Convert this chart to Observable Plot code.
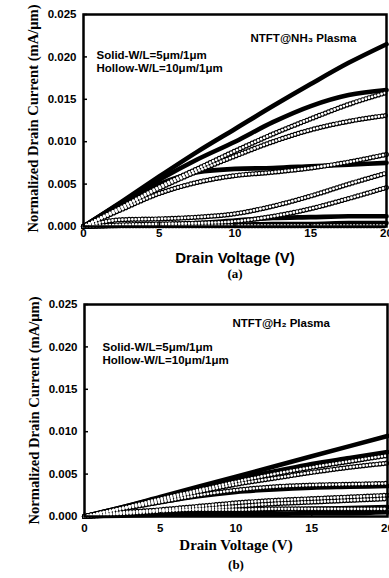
<!DOCTYPE html>
<html><head><meta charset="utf-8">
<script src="https://cdn.jsdelivr.net/npm/d3@7"></script>
<script src="https://cdn.jsdelivr.net/npm/@observablehq/plot@0.6"></script>
<style>
html,body{margin:0;padding:0;background:#fff;}
#wrap{width:389px;height:578px;overflow:hidden;}
svg{display:block;}
</style>
</head><body><div id="wrap"></div>
<script>
// Drain voltage grid (V)
const voltage = [0, 2.5, 5, 7.5, 10, 12.5, 15, 17.5, 20];
const xTicks = [0, 5, 10, 15, 20];
const yTicks = [0, 0.005, 0.010, 0.015, 0.020, 0.025];

// (a) NTFT@NH3 plasma — solid: W/L=5µm/1µm
const nh3Solid1 = [0, 0.0029, 0.0059, 0.0088, 0.0115, 0.0142, 0.0168, 0.0193, 0.0215];
const nh3Solid2 = [0, 0.0028, 0.0055, 0.0079, 0.0100, 0.0123, 0.0142, 0.0155, 0.0161];
const nh3Solid3 = [0, 0.0027, 0.0050, 0.0064, 0.0068, 0.0069, 0.0071, 0.0073, 0.0075];
const nh3Solid4 = [0, 0.0001, 0.0002, 0.0004, 0.0007, 0.0010, 0.0011, 0.0012, 0.0012];
const nh3Solid5 = [0, 0.0001, 0.0001, 0.0002, 0.0002, 0.0003, 0.0003, 0.0004, 0.0004];
// (a) hollow: W/L=10µm/1µm
const nh3Hollow1 = [0, 0.0023, 0.0047, 0.0068, 0.0089, 0.0109, 0.0127, 0.0144, 0.0158];
const nh3Hollow2 = [0, 0.0022, 0.0045, 0.0065, 0.0083, 0.0100, 0.0114, 0.0124, 0.0131];
const nh3Hollow3 = [0, 0.0020, 0.0039, 0.0052, 0.0060, 0.0064, 0.0069, 0.0076, 0.0085];
const nh3Hollow4 = [0, 0.0008, 0.0009, 0.0011, 0.0015, 0.0024, 0.0036, 0.0050, 0.0063];
const nh3Hollow5 = [0, 0.0002, 0.0003, 0.0004, 0.0006, 0.0012, 0.0021, 0.0033, 0.0046];
const nh3Hollow6 = [0, 0.0001, 0.0001, 0.0001, 0.0001, 0.0001, 0.0001, 0.0001, 0.0001];

// (b) NTFT@H2 plasma — solid
const h2Solid1 = [0, 0.0011, 0.0023, 0.0035, 0.0047, 0.0059, 0.0071, 0.0083, 0.0095];
const h2Solid2 = [0, 0.0011, 0.0022, 0.0033, 0.0044, 0.0053, 0.0062, 0.0069, 0.0076];
const h2Solid3 = [0, 0.0009, 0.0017, 0.0024, 0.0029, 0.0032, 0.0034, 0.0035, 0.0036];
const h2Solid4 = [0, 0.0002, 0.0004, 0.0006, 0.0007, 0.0008, 0.0009, 0.0010, 0.0011];
const h2Solid5 = [0, 0.0001, 0.0002, 0.0002, 0.0003, 0.0003, 0.0004, 0.0004, 0.0005];
// (b) hollow
const h2Hollow1 = [0, 0.0010, 0.0021, 0.0031, 0.0041, 0.0050, 0.0058, 0.0065, 0.0072];
const h2Hollow2 = [0, 0.0010, 0.0019, 0.0029, 0.0038, 0.0045, 0.0052, 0.0058, 0.0063];
const h2Hollow3 = [0, 0.0009, 0.0017, 0.0025, 0.0031, 0.0035, 0.0037, 0.0038, 0.0039];
const h2Hollow4 = [0, 0.0004, 0.0008, 0.0012, 0.0016, 0.0019, 0.0021, 0.0023, 0.0025];
const h2Hollow5 = [0, 0.0003, 0.0006, 0.0009, 0.0012, 0.0015, 0.0017, 0.0019, 0.0021];
const h2Hollow6 = [0, 0.0005, 0.0007, 0.0008, 0.0008, 0.0009, 0.0009, 0.0009, 0.0009];

const xLabel = "Drain Voltage (V)";
const yLabel = "Normalized Drain Current (mA/\u03bcm)";
const solidNote = "Solid-W/L=5\u03bcm/1\u03bcm";
const hollowNote = "Hollow-W/L=10\u03bcm/1\u03bcm";

function toRows(list, kind) {
  return list.flatMap((vals, i) => vals.map((c, j) => ({v: voltage[j], c, id: kind + i})));
}

const SANS = "'Liberation Sans', Arial, Helvetica, sans-serif";
const SERIF = "'Liberation Serif', 'Times New Roman', Times, serif";

function panel(o) {
  const solid = toRows(o.solid, "s");
  const hollow = toRows(o.hollow, "h");
  const bold = {fill: "#000", fontWeight: "bold"};
  return Plot.plot({
    width: 389, height: o.height,
    marginTop: 14, marginLeft: o.marginLeft, marginRight: o.marginRight, marginBottom: o.marginBottom,
    style: {fontFamily: SANS, background: "#fff", color: "#000"},
    x: {domain: [0, 20], ticks: xTicks},
    y: {domain: [0, 0.025], ticks: yTicks},
    marks: [
      Plot.line(solid, {x: "v", y: "c", z: "id", curve: "monotone-x", stroke: "#000", strokeWidth: 4.6}),
      Plot.line(hollow, {x: "v", y: "c", z: "id", curve: "monotone-x", stroke: "#000", strokeWidth: 5.2,
        strokeDasharray: "0 3.3", strokeLinecap: "round"}),
      Plot.line(hollow, {x: "v", y: "c", z: "id", curve: "monotone-x", stroke: "#fff", strokeWidth: 2.8,
        strokeDasharray: "0 3.3", strokeLinecap: "round"}),
      Plot.frame({stroke: "#000", strokeWidth: 2.5}),
      Plot.axisX({tickSize: -4, tickPadding: o.xTickPad, strokeWidth: 1.5, fontSize: 11.5, fontWeight: "bold",
        label: null, tickFormat: d => String(d), fill: "#000"}),
      Plot.axisY({tickSize: -4, tickPadding: 11, strokeWidth: 1.5, fontSize: 11.5, fontWeight: "bold",
        label: null, tickFormat: d3.format(".3f"), fill: "#000"}),
      Plot.text([xLabel], {frameAnchor: "bottom", dy: o.xTitleDy, fontSize: 15, fontFamily: o.xTitleFont, ...bold}),
      Plot.text([o.tag], {frameAnchor: "bottom", dy: o.tagDy, fontSize: 13, fontFamily: SERIF, ...bold}),
      Plot.text([yLabel], {frameAnchor: "left", textAnchor: "middle", lineAnchor: "middle", rotate: -90,
        dx: -50, dy: o.yTitleDy, fontSize: 14.6, fontFamily: SERIF, ...bold}),
      Plot.text([o.title], {frameAnchor: "top-left", textAnchor: "start", dx: o.titleDx, dy: o.titleDy, fontSize: 11.5, ...bold}),
      Plot.text([solidNote], {frameAnchor: "top-left", textAnchor: "start", dx: o.noteDx, dy: o.noteDy, fontSize: 11.5, ...bold}),
      Plot.text([hollowNote], {frameAnchor: "top-left", textAnchor: "start", dx: o.noteDx, dy: o.noteDy + 13.5, fontSize: 11.5, ...bold})
    ]
  });
}

const wrap = document.getElementById("wrap");
wrap.appendChild(panel({
  solid: [nh3Solid1, nh3Solid2, nh3Solid3, nh3Solid4, nh3Solid5],
  hollow: [nh3Hollow1, nh3Hollow2, nh3Hollow3, nh3Hollow4, nh3Hollow5, nh3Hollow6],
  height: 290, marginLeft: 83, marginRight: 3, marginBottom: 64,
  xTickPad: 6, xTitleDy: 36, xTitleFont: SANS, tag: "(a)", tagDy: 51, yTitleDy: -2,
  title: "NTFT@NH\u2083 Plasma", titleDx: 167, titleDy: 19, noteDx: 13, noteDy: 36
}));
wrap.appendChild(panel({
  solid: [h2Solid1, h2Solid2, h2Solid3, h2Solid4, h2Solid5],
  hollow: [h2Hollow1, h2Hollow2, h2Hollow3, h2Hollow4, h2Hollow5, h2Hollow6],
  height: 288, marginLeft: 84, marginRight: 2, marginBottom: 62,
  xTickPad: 11, xTitleDy: 33, xTitleFont: SERIF, tag: "(b)", tagDy: 52, yTitleDy: 0,
  title: "NTFT@H\u2082 Plasma", titleDx: 148, titleDy: 14, noteDx: 18, noteDy: 38
}));
</script>
</body></html>
